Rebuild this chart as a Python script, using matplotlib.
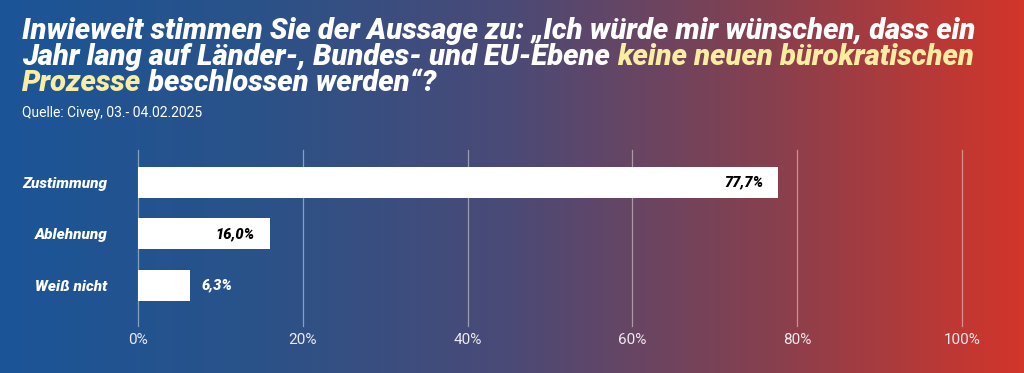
import matplotlib
matplotlib.use("Agg")
import matplotlib.pyplot as plt
import numpy as np
from matplotlib.colors import LinearSegmentedColormap

# data
categories = ["Zustimmung", "Ablehnung", "Weiß nicht"]
values = [77.7, 16.0, 6.3]
value_labels = ["77,7%", "16,0%", "6,3%"]
ticks = [0, 20, 40, 60, 80, 100]
tick_labels = ["0%", "20%", "40%", "60%", "80%", "100%"]

FONT = "Roboto"
YELLOW = "#f8eda0"

fig = plt.figure(figsize=(10.24, 3.73), dpi=100)

# gradient background blue -> red
bg = fig.add_axes([0, 0, 1, 1], zorder=-1)
cmap = LinearSegmentedColormap.from_list(
    "bg", [(0.0, "#1b5598"), (0.25, "#2a5289"), (0.5, "#4b4a76"),
           (0.75, "#86404f"), (1.0, "#d2352a")])
bg.imshow(np.linspace(0, 1, 512).reshape(1, -1), aspect="auto", cmap=cmap,
          extent=[0, 1, 0, 1])
bg.axis("off")

# title, mixed colours (pieces placed one after another)
tkw = dict(fontsize=21, fontweight="black", style="italic", family=FONT,
           va="center", ha="left")
x0 = 22 / 1024
lines = [
    (1 - 31 / 373, [("Inwieweit stimmen Sie der Aussage zu: \u201eIch würde mir wünschen, dass ein", "white")]),
    (1 - 57 / 373, [("Jahr lang auf Länder-, Bundes- und EU-Ebene ", "white"),
                    ("keine neuen bürokratischen", YELLOW)]),
    (1 - 83 / 373, [("Prozesse", YELLOW), (" beschlossen werden\u201c?", "white")]),
]
for ypos, parts in lines:
    x = x0
    for txt, col in parts:
        t = fig.text(x, ypos, txt, color=col, **tkw)
        fig.canvas.draw()
        x = t.get_window_extent().x1 / fig.bbox.width

fig.text(x0, 1 - 113 / 373, "Quelle: Civey, 03.- 04.02.2025", color="white",
         fontsize=10, family=FONT, va="center", ha="left")

# bar axes
ax = fig.add_axes([138 / 1024, 1 - 326 / 373, 824 / 1024, 176 / 373])
ax.patch.set_alpha(0)
y = np.arange(len(categories))
ax.barh(y, values, height=0.6, color="white", zorder=3)
ax.set_xlim(0, 100)
ax.set_ylim(2.79, -0.63)
ax.set_xticks(ticks)
ax.set_xticklabels(tick_labels)
ax.set_yticks(y)
ax.set_yticklabels(categories)
for lbl in ax.get_yticklabels():
    lbl.set_fontweight("black")
    lbl.set_style("italic")
    lbl.set_family(FONT)
    lbl.set_fontsize(11)
for lbl in ax.get_xticklabels():
    lbl.set_family(FONT)
    lbl.set_fontsize(11)
ax.tick_params(axis="both", length=0, colors="white")
ax.tick_params(axis="x", pad=5, colors="#eeeaf0")
ax.tick_params(axis="y", pad=22)
ax.grid(axis="x", color="white", alpha=0.45, linewidth=0.9, zorder=0)
for gl in ax.get_xgridlines():
    gl.set_clip_on(False)
for s in ax.spines.values():
    s.set_visible(False)

for yi, v, lab in zip(y, values, value_labels):
    if v > 10:
        ax.text(v - 1.8, yi, lab, ha="right", va="center", color="black",
                fontsize=10.5, fontweight="black", style="italic", family=FONT, zorder=4)
    else:
        ax.text(v + 1.4, yi, lab, ha="left", va="center", color="white",
                fontsize=10.5, fontweight="black", style="italic", family=FONT, zorder=4)

fig.savefig("out.png", dpi=100)
